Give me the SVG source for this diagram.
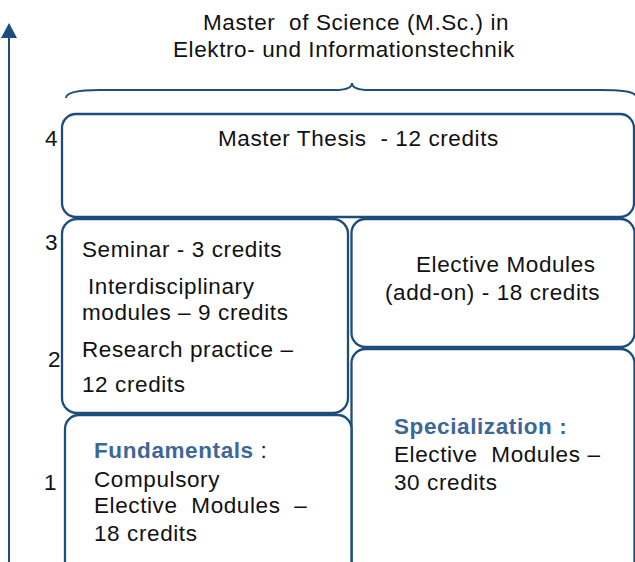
<svg xmlns="http://www.w3.org/2000/svg" width="635" height="562" viewBox="0 0 635 562">
  <style>
    text { font-family: "Liberation Sans", Arial, sans-serif; font-size: 22.5px; letter-spacing: 0.6px; fill: #111111; }
    .box { fill: #ffffff; stroke: #1c4d7c; stroke-width: 2.3; }
    .hl { font-weight: bold; fill: #3d6699; }
    .axis { stroke: #1c4d7c; stroke-width: 2; fill: none; }
    .brace { stroke: #1c4d7c; stroke-width: 2; fill: none; }
  </style>
  <defs>
    <marker id="arrowhead" viewBox="0 0 15 16" refX="13" refY="8" markerWidth="15" markerHeight="16" markerUnits="userSpaceOnUse" orient="auto">
      <path d="M0,0 L15,8 L0,16 Z" fill="#1c4d7c"/>
    </marker>
  </defs>

  <rect width="635" height="562" fill="#ffffff"/>

  <!-- semester axis and degree brace -->
  <g id="connectors">
    <line class="axis" x1="9" y1="562" x2="9" y2="25" marker-end="url(#arrowhead)"/>
    <path class="brace" d="M66,98 C66,92 80,90 100,90 L334,90 C345,90 352,88 352,83 C352,88 359,90 370,90 L600,90 C620,90 634,91 636,96"/>
  </g>

  <!-- degree title -->
  <g id="title">
    <text x="203" y="30" xml:space="preserve">Master  of Science (M.Sc.) in</text>
    <text x="173" y="57">Elektro- und Informationstechnik</text>
  </g>

  <!-- semester numbers -->
  <g id="semesters">
    <text x="45" y="146">4</text>
    <text x="45" y="250">3</text>
    <text x="48" y="367">2</text>
    <text x="44" y="490">1</text>
  </g>

  <g id="thesis">
    <rect class="box" x="62" y="114" width="572" height="103" rx="14"/>
    <text x="218" y="146" xml:space="preserve">Master Thesis  - 12 credits</text>
  </g>

  <g id="seminar">
    <rect class="box" x="62" y="219" width="286" height="194" rx="15"/>
    <text x="82" y="257">Seminar - 3 credits</text>
    <text x="88" y="294">Interdisciplinary</text>
    <text x="82" y="320">modules – 9 credits</text>
    <text x="82" y="357">Research practice –</text>
    <text x="82" y="392">12 credits</text>
  </g>

  <g id="addon">
    <rect class="box" x="351.5" y="219" width="283" height="128" rx="14"/>
    <text x="416" y="272">Elective Modules</text>
    <text x="385" y="300">(add-on) - 18 credits</text>
  </g>

  <g id="specialization">
    <rect class="box" x="351.5" y="349" width="283" height="260" rx="14"/>
    <text x="394" y="434"><tspan class="hl">Specialization :</tspan></text>
    <text x="394" y="462" xml:space="preserve">Elective  Modules –</text>
    <text x="394" y="490">30 credits</text>
  </g>

  <g id="fundamentals">
    <rect class="box" x="65" y="415" width="286.5" height="200" rx="14"/>
    <text x="94" y="458"><tspan class="hl">Fundamentals</tspan> :</text>
    <text x="94" y="487">Compulsory</text>
    <text x="94" y="513" xml:space="preserve">Elective  Modules  –</text>
    <text x="94" y="541">18 credits</text>
  </g>
</svg>
